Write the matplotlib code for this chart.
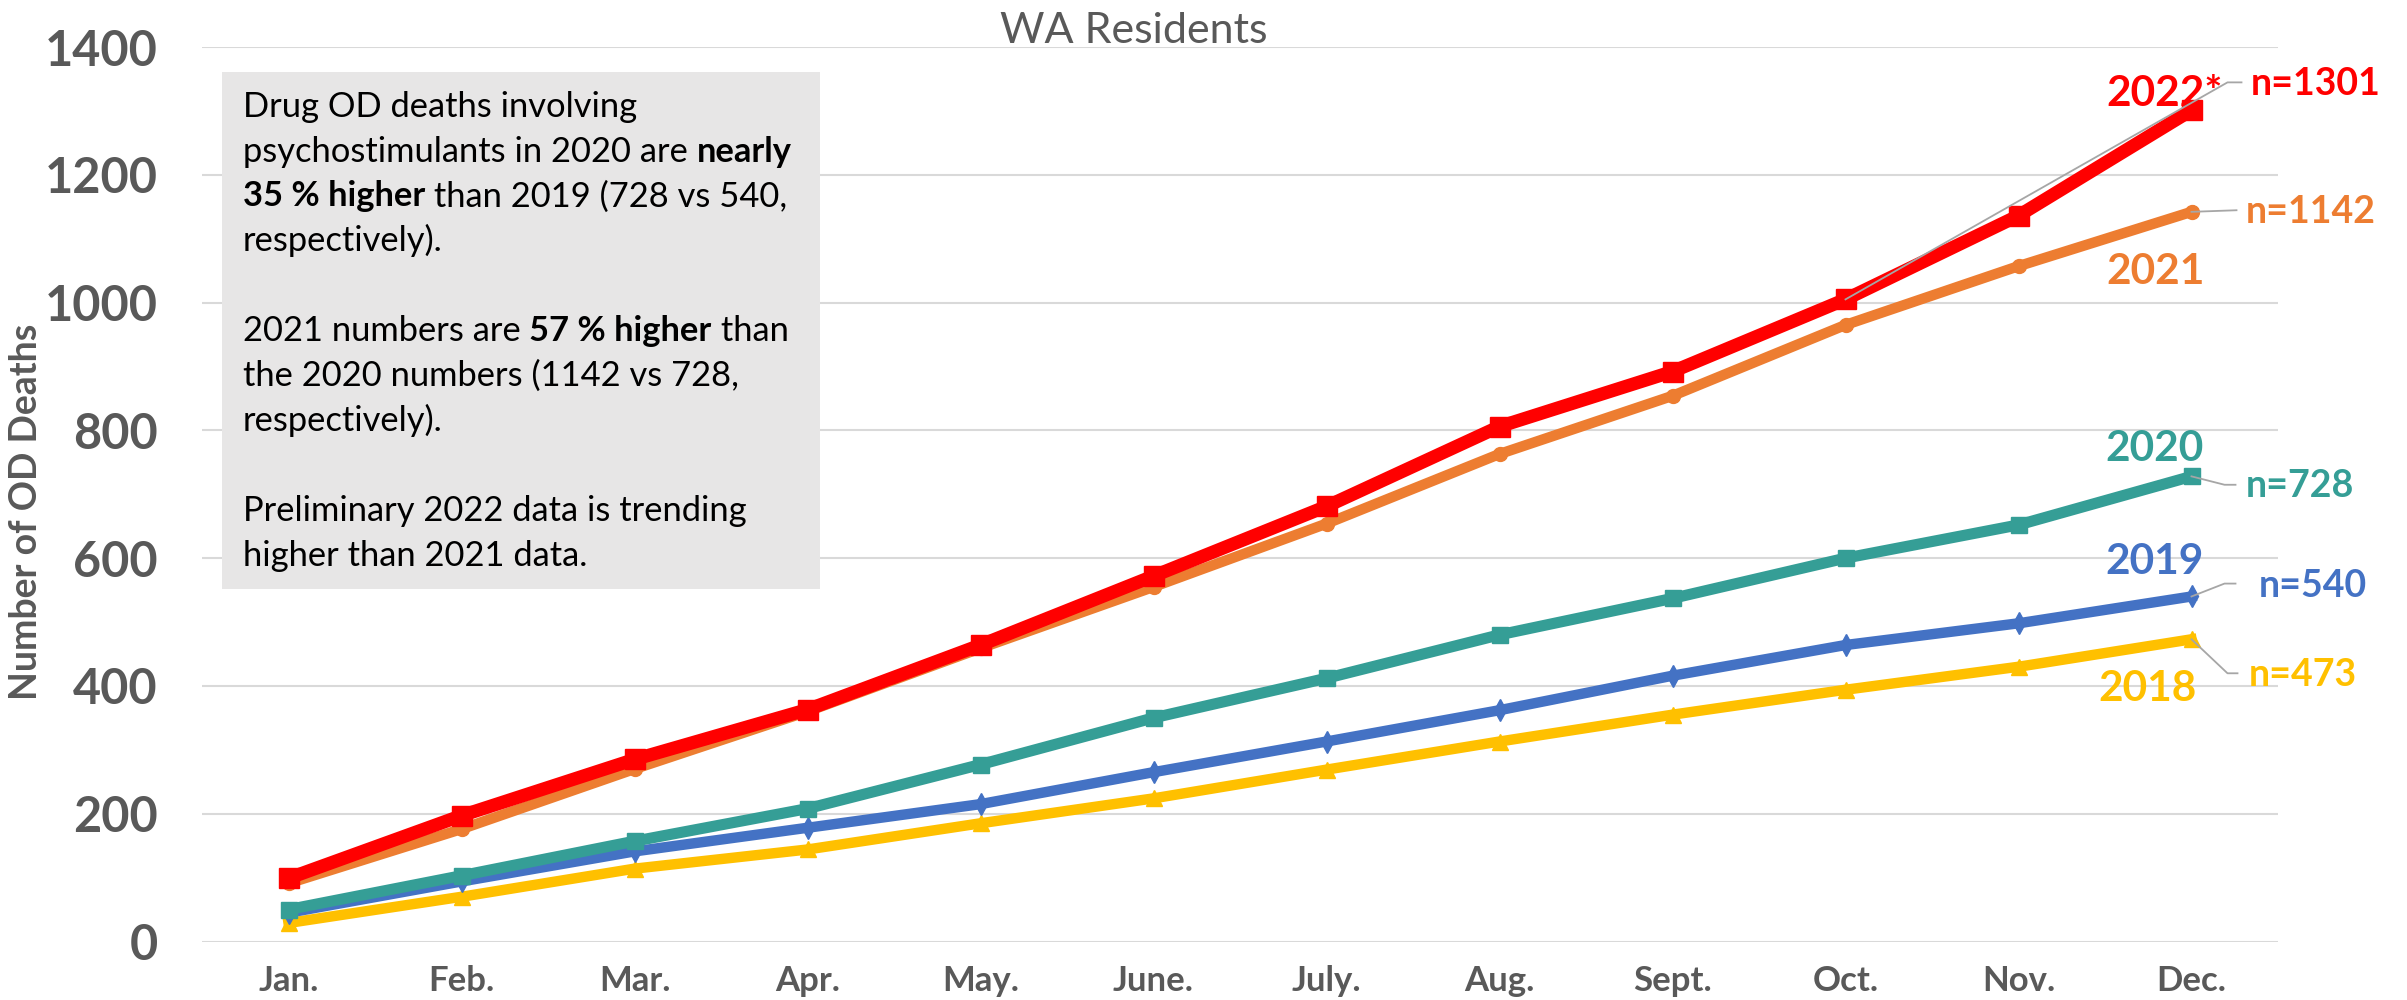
import matplotlib
matplotlib.use("Agg")
import matplotlib.pyplot as plt
from matplotlib.patches import Rectangle
from matplotlib.lines import Line2D
from matplotlib.transforms import IdentityTransform

plt.rcParams['font.family'] = ['Lato', 'DejaVu Sans']

# data (cumulative OD deaths by month)
months = ['Jan.', 'Feb.', 'Mar.', 'Apr.', 'May.', 'June.', 'July.', 'Aug.', 'Sept.', 'Oct.', 'Nov.', 'Dec.']
deaths_2018 = [29, 70, 114, 144, 185, 224, 269, 313, 355, 394, 430, 473]
deaths_2019 = [45, 94, 141, 178, 215, 265, 313, 362, 416, 464, 498, 540]
deaths_2020 = [50, 103, 157, 208, 277, 350, 412, 480, 537, 600, 652, 728]
deaths_2021 = [91, 176, 270, 360, 459, 555, 654, 763, 854, 965, 1057, 1142]
deaths_2022 = [99, 197, 285, 363, 464, 572, 681, 806, 892, 1005, 1136, 1301]
y_ticks = [0, 200, 400, 600, 800, 1000, 1200, 1400]

W, H = 2407, 1000
GRAY = '#595959'
LEADER = '#A6A6A6'

fig = plt.figure(figsize=(W / 100, H / 100), dpi=100)
ax = fig.add_axes([202 / W, 1 - 941.5 / H, (2278 - 202) / W, (941.5 - 47) / H])

x = list(range(len(months)))
series = [
    ('2018', deaths_2018, '#FFC000', '^', 11, 7.5),
    ('2019', deaths_2019, '#4472C4', 'd', 11, 7.5),
    ('2020', deaths_2020, '#359E96', 's', 12, 8),
    ('2021', deaths_2021, '#ED7D31', 'o', 10, 7.5),
    ('2022*', deaths_2022, '#FF0000', 's', 14, 9.5),
]
for name, vals, col, mk, ms, lw in series:
    ax.plot(x, vals, color=col, marker=mk, markersize=ms, linewidth=lw,
            markeredgecolor=col, solid_joinstyle='miter', zorder=3)

ax.set_xlim(-0.5, 11.5)
ax.set_ylim(0, 1400)
ax.set_yticks(y_ticks)
ax.set_xticks(x)
ax.set_xticklabels(months)
ax.grid(axis='y', color='#D9D9D9', linewidth=1.5)
ax.set_axisbelow(True)
for s in ax.spines.values():
    s.set_visible(False)
ax.tick_params(axis='y', length=0, pad=32, labelsize=35, labelcolor=GRAY)
ax.tick_params(axis='x', length=0, pad=17, labelsize=25, labelcolor=GRAY)
for lab in ax.get_yticklabels() + ax.get_xticklabels():
    lab.set_fontweight('bold')

fig.text(1134 / W, 1 - 43 / H, 'WA Residents', ha='center', va='baseline',
         fontsize=31, color=GRAY)
fig.text(26 / W, 1 - 512 / H, 'Number of OD Deaths', rotation=90, ha='center',
         va='center', fontsize=27, fontweight='bold', color=GRAY)

# series labels: (year label offset, n label offset) in points from the Dec point
labels = [
    (deaths_2022, '#FF0000', '2022*', (-61, 11.4), 'n=1301', (42.5, 19)),
    (deaths_2021, '#ED7D31', '2021', (-61, -43.5), 'n=1142', (39, 0)),
    (deaths_2020, '#359E96', '2020', (-62, 20), 'n=728', (39, -6.8)),
    (deaths_2019, '#4472C4', '2019', (-62, 24.8), 'n=540', (48.5, 7.8)),
    (deaths_2018, '#FFC000', '2018', (-67, -36), 'n=473', (41, -26)),
]
for vals, col, yr, yoff, ntxt, noff in labels:
    ax.annotate(yr, (11, vals[-1]), xytext=yoff, textcoords='offset points',
                ha='left', va='center', fontsize=30.5, fontweight='bold', color=col,
                annotation_clip=False, zorder=5)
    ax.annotate(ntxt, (11, vals[-1]), xytext=noff, textcoords='offset points',
                ha='left', va='center', fontsize=27, fontweight='bold', color=col,
                annotation_clip=False, zorder=5)

# leader lines (pixel offsets from the data point, y up)
leaders = [
    (9, deaths_2022[9], [(382, 217), (396, 217)]),
    (11, deaths_2021[11], [(45, 1.6)]),
    (11, deaths_2020[11], [(33, -8.4), (44, -8.4)]),
    (11, deaths_2019[11], [(33, 12.9), (44, 12.9)]),
    (11, deaths_2018[11], [(36, -34), (46, -34)]),
]
for i, v, pts in leaders:
    X, Y = ax.transData.transform((i, v))
    xs = [X] + [X + dx for dx, dy in pts]
    ys = [Y] + [Y + dy for dx, dy in pts]
    fig.add_artist(Line2D(xs, ys, transform=IdentityTransform(), color=LEADER,
                          linewidth=1.3, zorder=4))

# annotation box
fig.add_artist(Rectangle((222 / W, 1 - 589 / H), (820 - 222) / W, (589 - 72) / H,
                         transform=fig.transFigure, facecolor='#E7E6E6',
                         edgecolor='none', zorder=2))

box_lines = [
    [('Drug OD deaths involving', False)],
    [('psychostimulants in 2020 are ', False), ('nearly', True)],
    [('35 % higher', True), (' than 2019 (728 vs 540,', False)],
    [('respectively).', False)],
    [],
    [('2021 numbers are ', False), ('57 % higher', True), (' than', False)],
    [('the 2020 numbers (1142 vs 728,', False)],
    [('respectively).', False)],
    [],
    [('Preliminary 2022 data is trending', False)],
    [('higher than 2021 data.', False)],
]
box_fs = 24.8
renderer = fig.canvas.get_renderer()


def run_width(txt, bold):
    w = 'bold' if bold else 'normal'
    t1 = fig.text(0, 0, '|' + txt + '|', fontsize=box_fs, fontweight=w)
    t2 = fig.text(0, 0, '||', fontsize=box_fs, fontweight=w)
    width = t1.get_window_extent(renderer).width - t2.get_window_extent(renderer).width
    t1.remove()
    t2.remove()
    return width


for n, line in enumerate(box_lines):
    base = 116.6 + n * 44.9
    xp = 242.7
    for txt, bold in line:
        fig.text(xp / W, 1 - base / H, txt, fontsize=box_fs,
                 fontweight='bold' if bold else 'normal', color='black',
                 ha='left', va='baseline', zorder=3)
        xp += run_width(txt, bold)

fig.savefig('out.png', dpi=100)
